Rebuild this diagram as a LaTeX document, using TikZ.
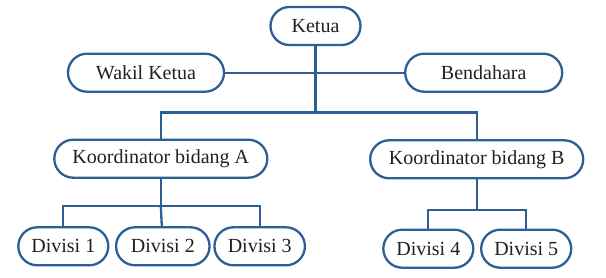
\documentclass[tikz,border=0pt]{standalone}
\usepackage{fontspec}
\setmainfont{Liberation Serif}
\definecolor{orgblue}{RGB}{45,95,150}
\definecolor{txt}{RGB}{35,30,35}
\begin{document}
\begin{tikzpicture}[x=1pt,y=-1pt,
  box/.style={draw=orgblue, line width=2.3pt, rounded corners=19pt,
    minimum height=38pt, inner sep=0pt, text=txt,
    font=\fontsize{20}{23}\selectfont},
  link/.style={draw=orgblue, line width=2.3pt}]
\useasboundingbox (0,0) rectangle (606,278);
\node[box, minimum width=90pt] (ketua) at (315.5,26) {Ketua};
\node[box, minimum width=156pt] (wakil) at (146,72.7) {Wakil Ketua};
\node[box, minimum width=157pt] (bend) at (483.7,72.7) {Bendahara};
\node[box, minimum width=213pt] (ka) at (160.8,158.7) {Koordinator bidang A};
\node[box, minimum width=213pt] (kb) at (476.7,159.3) {Koordinator bidang B};
\node[box, minimum width=90pt] (d1) at (63.3,246.3) {Divisi 1};
\node[box, minimum width=93.5pt] (d2) at (162.8,246.3) {Divisi 2};
\node[box, minimum width=90.5pt] (d3) at (259.7,246.3) {Divisi 3};
\node[box, minimum width=90pt] (d4) at (428.3,248.7) {Divisi 4};
\node[box, minimum width=90pt] (d5) at (526.2,248.7) {Divisi 5};
\coordinate (j1) at (315.5,112.5);
\coordinate (ja) at (160.8,206);
\coordinate (jb) at (476.7,210);
\draw[link] (wakil) -- (bend);
\draw[link] (ketua) -- (j1);
\draw[link] (ka) |- (j1) -| (kb);
\draw[link] (ka) -- (ja);
\draw[link] (d1) |- (ja) -| (d3);
\draw[link] (ja) -- (d2);
\draw[link] (kb) -- (jb);
\draw[link] (d4) |- (jb) -| (d5);
\end{tikzpicture}
\end{document}
